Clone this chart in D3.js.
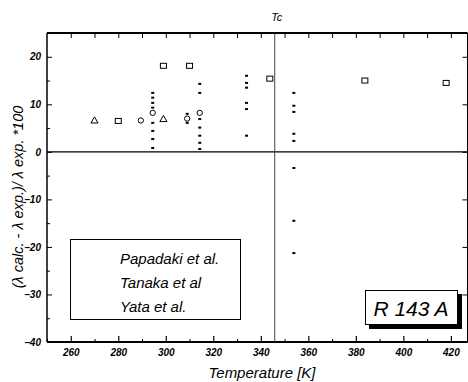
<!DOCTYPE html>
<html>
<head>
<meta charset="utf-8">
<script src="https://cdn.jsdelivr.net/npm/d3@7"></script>
<style>
  body { margin: 0; background: #fff; }
  text { font-family: "Liberation Sans", Arial, sans-serif; }
</style>
</head>
<body>
<script>
// data
const xTicks = [260, 280, 300, 320, 340, 360, 380, 400, 420];
const yTicks = [20, 10, 0, -10, -20, -30, -40];
const Tc = 345.86;

const papadaki = [
  [280, 6.5], [299, 18.1], [310, 18.1], [343.8, 15.4], [383.8, 15.0], [418, 14.5]
];
const tanaka = [
  [270, 6.5], [289.5, 6.6], [299, 6.8], [309, 7.0], [314.3, 8.2], [294.5, 8.2]
];
const yata = [
  [294.5, 12.4], [294.5, 11.4], [294.5, 10.3], [294.5, 9.3], [294.5, 6.1], [294.5, 4.4],
  [294.5, 2.7], [294.5, 0.8],
  [309, 8.0], [309, 6.1],
  [314.3, 14.3], [314.3, 12.4], [314.3, 6.9], [314.3, 5.1], [314.3, 3.4], [314.3, 1.9], [314.3, 0.6],
  [334, 16.0], [334, 14.5], [334, 13.5], [334, 10.3], [334, 9.0], [334, 3.4],
  [353.9, 12.4], [353.9, 9.7], [353.9, 8.4], [353.9, 3.8], [353.9, 2.3], [353.9, -3.4],
  [353.9, -14.5], [353.9, -21.3]
];
const legendNames = ["Papadaki et al.", "Tanaka et al", "Yata et al."];

const W = 468, H = 382;
const svg = d3.select("body").append("svg")
  .attr("width", W).attr("height", H);

const x = d3.scaleLinear().domain([250, 427]).range([47, 467.5]);
const y = d3.scaleLinear().domain([-40, 25]).range([342, 33]);

// frame
const g = svg.append("g");
g.append("line").attr("x1", x(250)).attr("x2", x(427)).attr("y1", y(25)).attr("y2", y(25))
  .attr("stroke", "#000").attr("stroke-width", 2);
g.append("line").attr("x1", x(250)).attr("x2", x(427)).attr("y1", y(-40)).attr("y2", y(-40))
  .attr("stroke", "#000").attr("stroke-width", 2);
g.append("line").attr("x1", x(250)).attr("x2", x(250)).attr("y1", y(25)).attr("y2", y(-40))
  .attr("stroke", "#000").attr("stroke-width", 1.5);
g.append("line").attr("x1", x(427)).attr("x2", x(427)).attr("y1", y(25)).attr("y2", y(-40))
  .attr("stroke", "#000").attr("stroke-width", 1);

// bottom axis
const xAxis = d3.axisBottom(x).tickValues(xTicks).tickSize(-6).tickPadding(5)
  .tickFormat(d3.format("d"));
const gx = svg.append("g").attr("transform", `translate(0,${y(-40)})`).call(xAxis);
gx.select(".domain").remove();
gx.selectAll("text").attr("font-size", 10).attr("font-style", "italic").attr("font-weight", "bold")
  .attr("dy", "0.9em");
gx.selectAll("line").attr("stroke-width", 1.2);
svg.append("g").attr("transform", `translate(0,${y(-40)})`)
  .call(d3.axisBottom(x).tickValues(d3.range(250, 430, 10).filter(v => v % 20 !== 0)).tickSize(-3).tickFormat(""))
  .select(".domain").remove();

// top axis
svg.append("g").attr("transform", `translate(0,${y(25)})`)
  .call(d3.axisTop(x).tickValues(d3.range(260, 430, 10)).tickSize(-5).tickFormat(""))
  .select(".domain").remove();

// left axis
const gy = svg.append("g").attr("transform", `translate(${x(250)},0)`)
  .call(d3.axisLeft(y).tickValues(yTicks).tickSize(-5).tickPadding(6));
gy.select(".domain").remove();
gy.selectAll("text").attr("font-size", 10).attr("font-style", "italic").attr("font-weight", "bold");
svg.append("g").attr("transform", `translate(${x(250)},0)`)
  .call(d3.axisLeft(y).tickValues([15, 5, -5, -15, -25, -35]).tickSize(-3).tickFormat(""))
  .select(".domain").remove();

// right axis ticks
svg.append("g").attr("transform", `translate(${x(427)},0)`)
  .call(d3.axisRight(y).tickValues(yTicks).tickSize(-5).tickFormat(""))
  .select(".domain").remove();

// zero line and Tc line
svg.append("line").attr("x1", x(250)).attr("x2", x(427)).attr("y1", y(0)).attr("y2", y(0))
  .attr("stroke", "#000").attr("stroke-width", 1.2);
svg.append("line").attr("x1", x(Tc)).attr("x2", x(Tc)).attr("y1", y(25)).attr("y2", y(-40))
  .attr("stroke", "#444").attr("stroke-width", 1);
svg.append("text").attr("x", x(Tc) + 2).attr("y", 21).attr("text-anchor", "middle")
  .attr("font-size", 11).attr("font-style", "italic").text("Tc");

// markers
svg.append("g").selectAll("rect").data(papadaki).join("rect")
  .attr("x", d => x(d[0]) - 3).attr("y", d => y(d[1]) - 2.5)
  .attr("width", 6).attr("height", 5)
  .attr("fill", "none").attr("stroke", "#000").attr("stroke-width", 1);
svg.append("g").selectAll("path").data(tanaka).join("path")
  .attr("transform", d => `translate(${x(d[0])},${y(d[1])})`)
  .attr("d", (d, i) => d3.symbol().type(i === 2 || i === 0 ? d3.symbolTriangle : d3.symbolCircle).size(22)())
  .attr("fill", "none").attr("stroke", "#000").attr("stroke-width", 1);
svg.append("g").selectAll("rect").data(yata).join("rect")
  .attr("x", d => x(d[0]) - 1.5).attr("y", d => y(d[1]) - 1)
  .attr("width", 3).attr("height", 2).attr("fill", "#000");

// legend box
const lg = svg.append("g");
lg.append("rect").attr("x", 70.5).attr("y", 239.5).attr("width", 170).attr("height", 80)
  .attr("fill", "#fff").attr("stroke", "#000").attr("stroke-width", 1);
lg.selectAll("text").data(legendNames).join("text")
  .attr("x", 120).attr("y", (d, i) => 264 + i * 24)
  .attr("font-size", 15).attr("font-style", "italic").text(d => d);

// R 143 A label box with shadow
svg.append("rect").attr("x", 369).attr("y", 294).attr("width", 93).attr("height", 35).attr("fill", "#000");
svg.append("rect").attr("x", 365.5).attr("y", 290.5).attr("width", 92).attr("height", 34)
  .attr("fill", "#fff").attr("stroke", "#000").attr("stroke-width", 1);
svg.append("text").attr("x", 411).attr("y", 316).attr("text-anchor", "middle")
  .attr("font-size", 21).attr("font-style", "italic").text("R 143 A");

// axis titles
svg.append("text").attr("x", 262).attr("y", 378).attr("text-anchor", "middle")
  .attr("font-size", 15).attr("font-style", "italic").text("Temperature [K]");
svg.append("text").attr("transform", `translate(23,197) rotate(-90)`)
  .attr("text-anchor", "middle").attr("font-size", 14.5).attr("font-style", "italic")
  .text("(λ calc. - λ exp.)/ λ exp. *100");
</script>
</body>
</html>
